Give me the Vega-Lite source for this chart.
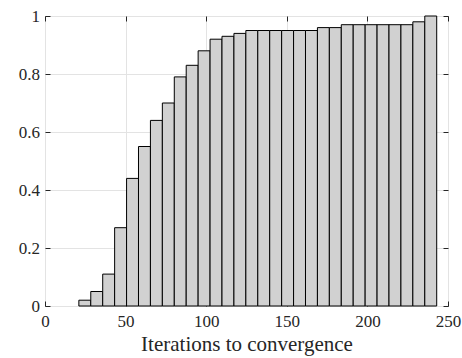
{
  "$schema": "https://vega.github.io/schema/vega-lite/v6.json",
  "autosize": "none",
  "width": 403,
  "height": 290,
  "padding": {"left": 45, "top": 16, "right": 14, "bottom": 52},
  "background": "white",
  "config": {
    "view": {"stroke": "#262626", "strokeWidth": 1},
    "font": "Liberation Serif",
    "axis": {
      "labelFont": "Liberation Serif",
      "titleFont": "Liberation Serif",
      "labelFontSize": 17,
      "titleFontSize": 21,
      "titleFontWeight": "normal",
      "labelColor": "#262626",
      "titleColor": "#262626",
      "tickColor": "#262626",
      "domain": false,
      "gridColor": "#e3e3e3",
      "gridOpacity": 1,
      "tickSize": -5,
      "tickWidth": 1
    }
  },
  "data": {
    "values": [
      {"start": 21.0, "end": 28.4, "value": 0.02},
      {"start": 28.4, "end": 35.8, "value": 0.05},
      {"start": 35.8, "end": 43.2, "value": 0.11},
      {"start": 43.2, "end": 50.6, "value": 0.27},
      {"start": 50.6, "end": 58.0, "value": 0.44},
      {"start": 58.0, "end": 65.4, "value": 0.55},
      {"start": 65.4, "end": 72.8, "value": 0.64},
      {"start": 72.8, "end": 80.2, "value": 0.70},
      {"start": 80.2, "end": 87.6, "value": 0.79},
      {"start": 87.6, "end": 95.0, "value": 0.83},
      {"start": 95.0, "end": 102.4, "value": 0.88},
      {"start": 102.4, "end": 109.8, "value": 0.92},
      {"start": 109.8, "end": 117.2, "value": 0.93},
      {"start": 117.2, "end": 124.6, "value": 0.94},
      {"start": 124.6, "end": 132.0, "value": 0.95},
      {"start": 132.0, "end": 139.4, "value": 0.95},
      {"start": 139.4, "end": 146.8, "value": 0.95},
      {"start": 146.8, "end": 154.2, "value": 0.95},
      {"start": 154.2, "end": 161.6, "value": 0.95},
      {"start": 161.6, "end": 169.0, "value": 0.95},
      {"start": 169.0, "end": 176.4, "value": 0.96},
      {"start": 176.4, "end": 183.8, "value": 0.96},
      {"start": 183.8, "end": 191.2, "value": 0.97},
      {"start": 191.2, "end": 198.6, "value": 0.97},
      {"start": 198.6, "end": 206.0, "value": 0.97},
      {"start": 206.0, "end": 213.4, "value": 0.97},
      {"start": 213.4, "end": 220.8, "value": 0.97},
      {"start": 220.8, "end": 228.2, "value": 0.97},
      {"start": 228.2, "end": 235.6, "value": 0.98},
      {"start": 235.6, "end": 243.0, "value": 1.0}
    ]
  },
  "layer": [
    {
      "mark": {"type": "bar", "fill": "#d1d1d1", "stroke": "#000000", "strokeWidth": 1},
      "encoding": {
        "x": {
          "field": "start", "type": "quantitative",
          "scale": {"domain": [0, 250], "nice": false, "zero": false, "padding": 0},
          "axis": {"values": [0, 50, 100, 150, 200, 250], "title": "Iterations to convergence", "labelPadding": 12, "titlePadding": 4, "labelFlush": false}
        },
        "x2": {"field": "end"},
        "y": {
          "field": "value", "type": "quantitative",
          "scale": {"domain": [0, 1], "nice": false, "padding": 0},
          "axis": {"values": [0, 0.2, 0.4, 0.6, 0.8, 1], "format": "~g", "title": null, "labelPadding": 10.5}
        },
        "y2": {"datum": 0}
      }
    },
    {
      "mark": {"type": "bar", "opacity": 0},
      "encoding": {
        "x": {
          "field": "start", "type": "quantitative",
          "scale": {"domain": [0, 250], "nice": false, "zero": false, "padding": 0},
          "axis": {"orient": "top", "values": [0, 50, 100, 150, 200, 250], "labels": false, "grid": false, "title": null}
        },
        "x2": {"field": "end"},
        "y": {
          "field": "value", "type": "quantitative",
          "scale": {"domain": [0, 1], "nice": false, "padding": 0},
          "axis": {"orient": "right", "values": [0, 0.2, 0.4, 0.6, 0.8, 1], "labels": false, "grid": false, "title": null}
        },
        "y2": {"datum": 0}
      }
    }
  ],
  "resolve": {"scale": {"x": "independent", "y": "independent"}, "axis": {"x": "independent", "y": "independent"}}
}
